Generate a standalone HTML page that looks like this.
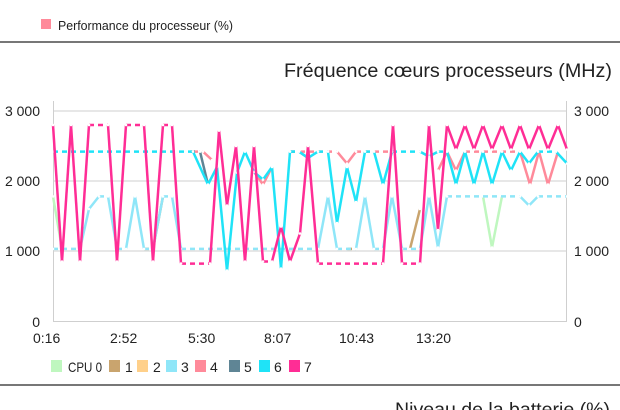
<!DOCTYPE html>
<html><head><meta charset="utf-8"><style>
html,body{margin:0;padding:0;background:#fff;width:620px;height:410px;overflow:hidden}
svg{display:block;font-family:"Liberation Sans",sans-serif}
</style></head><body>
<svg id="s" width="620" height="410" xmlns="http://www.w3.org/2000/svg">
<rect x="41" y="19" width="10" height="10" fill="#ff8a9a"/>
<text x="58" y="30" font-size="13" fill="#222" textLength="175" lengthAdjust="spacingAndGlyphs">Performance du processeur (%)</text>
<rect x="0" y="41" width="620" height="2" fill="#777"/>
<text x="612" y="77" font-size="19" fill="#222" text-anchor="end" textLength="328" lengthAdjust="spacingAndGlyphs">Fréquence cœurs processeurs (MHz)</text>
<g stroke="#cfcfcf" stroke-width="1">
<line x1="53" y1="111" x2="567" y2="111"/><line x1="53" y1="181" x2="567" y2="181"/>
<line x1="53" y1="251" x2="567" y2="251"/><line x1="53" y1="321.5" x2="567" y2="321.5"/>
<line x1="53.5" y1="101" x2="53.5" y2="322"/><line x1="566.5" y1="101" x2="566.5" y2="322"/>
</g>
<g font-size="14" fill="#222">
<text x="40" y="116" text-anchor="end">3 000</text><text x="40" y="186" text-anchor="end">2 000</text>
<text x="40" y="256" text-anchor="end">1 000</text><text x="40" y="327" text-anchor="end">0</text>
<text x="574" y="116">3 000</text><text x="574" y="186">2 000</text>
<text x="574" y="256">1 000</text><text x="574" y="327">0</text>
<text x="33" y="343">0:16</text><text x="110" y="343">2:52</text><text x="188" y="343">5:30</text>
<text x="264" y="343">8:07</text><text x="339" y="343">10:43</text><text x="416" y="343">13:20</text>
</g>
<g id="series"></g>
<g font-size="14" fill="#222">
<rect x="51" y="360" width="11" height="12" fill="#bff7bf"/><text x="68" y="372" textLength="34" lengthAdjust="spacingAndGlyphs">CPU 0</text>
<rect x="109" y="360" width="11" height="12" fill="#c9a46e"/><text x="125" y="372">1</text>
<rect x="137" y="360" width="11" height="12" fill="#ffd08a"/><text x="153" y="372">2</text>
<rect x="166" y="360" width="11" height="12" fill="#8fe6f8"/><text x="181" y="372">3</text>
<rect x="195" y="360" width="11" height="12" fill="#ff8a9a"/><text x="210" y="372">4</text>
<rect x="229" y="360" width="11" height="12" fill="#5f8595"/><text x="244" y="372">5</text>
<rect x="259" y="360" width="11" height="12" fill="#1fe3f7"/><text x="274" y="372">6</text>
<rect x="289" y="360" width="11" height="12" fill="#ff2d95"/><text x="304" y="372">7</text>
</g>
<rect x="0" y="384" width="620" height="2" fill="#777"/>
<text x="610" y="416" font-size="19" fill="#222" text-anchor="end" textLength="215" lengthAdjust="spacingAndGlyphs">Niveau de la batterie (%)</text>
</svg>
<script>
var S=[
["#bff7bf",[[53,1780],[62,1030]]],
["#bff7bf",[[483,1780],[492,1050],[502,1780]]],
["#c9a46e",[[144,1030],[153,1030],[163,1780]]],
["#c9a46e",[[347,1030],[356,1030]]],
["#c9a46e",[[410,1030],[420,1600]]],
["#8fe6f8",[[53,1030],[80,1030],[89,1600],[99,1780],[108,1780],[117,1030],[126,1030],[135,1780],[144,1030],[153,1030],[163,1780],[172,1780],[181,1030],[318,1030],[328,1780],[337,1030],[356,1030],[365,1780],[374,1030],[383,1030],[392,1780],[402,1030],[420,1030],[429,1780],[438,1050],[447,1780],[520,1780],[529,1650],[538,1780],[567,1780]]],
["#ff8a9a",[[193,2420],[203,2420],[212,2300]]],
["#ff8a9a",[[254,2130],[263,1950],[272,2200]]],
["#ff8a9a",[[300,2420],[337,2420],[347,2250],[356,2420],[392,2420]]],
["#ff8a9a",[[438,2150],[447,2420],[456,2150],[465,2420],[520,2420],[530,1950],[539,2420],[548,1950],[558,2420]]],
["#5f8595",[[190,2420],[200,2420],[208,1950]]],
["#5f8595",[[290,2420],[299,2420],[308,2330]]],
["#1fe3f7",[[53,2420],[193,2420],[208,1950],[217,2200],[227,720],[237,2120],[245,2420],[254,2130],[263,2020],[272,2200],[281,750],[290,2420],[299,2420],[308,2330],[318,2420],[328,2420],[337,1400],[347,2200],[356,1700],[365,2420],[374,2420],[383,1950],[392,2420],[420,2420],[429,2350],[438,2420],[447,2420],[456,1950],[465,2420],[474,1950],[483,2420],[492,1950],[502,2420],[511,2150],[520,2420],[529,2250],[538,2420],[556,2420],[567,2250]]],
["#ff2d95",[[53,2800],[62,850],[71,2800],[80,850],[89,2800],[108,2800],[117,850],[126,2800],[144,2800],[153,850],[163,2800],[172,2800],[181,820],[210,820],[219,2720],[227,1650],[236,2500],[245,850],[254,2500],[263,850],[272,850],[281,1350],[290,850],[300,1250],[308,2500],[318,820],[383,820],[393,2800],[402,820],[420,820],[429,2800],[438,1300],[447,2800],[456,2450],[465,2800],[474,2450],[483,2800],[492,2450],[502,2800],[511,2450],[520,2800],[529,2450],[539,2800],[548,2450],[558,2800],[567,2450]]]
];
var g=document.getElementById("series"),h="",Y=function(v){return (321-0.07*v).toFixed(1)};
S.forEach(function(s){var c=s[0],p=s[1];
for(var i=0;i<p.length-1;i++){var a=p[i],b=p[i+1],d=a[1]==b[1]?' stroke-dasharray="5,4"':'';
h+='<line x1="'+a[0]+'" y1="'+Y(a[1])+'" x2="'+b[0]+'" y2="'+Y(b[1])+'" stroke="'+c+'" stroke-width="2.5"'+d+'/>';}
p.forEach(function(a){h+='<circle cx="'+a[0]+'" cy="'+Y(a[1])+'" r="1.3" fill="#fff"/>';});});
g.innerHTML=h;
</script>
</body></html>
